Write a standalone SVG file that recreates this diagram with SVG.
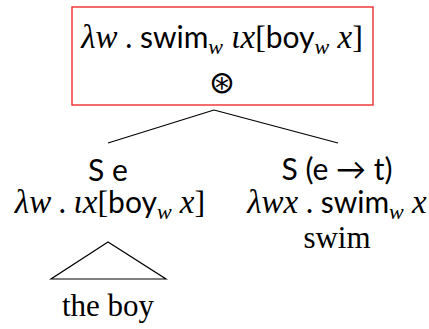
<svg xmlns="http://www.w3.org/2000/svg" width="429" height="329" viewBox="0 0 429 329">
<style>
text{fill:#000;text-anchor:middle}
.s{font-family:Lato,"Open Sans",sans-serif;font-size:30px}
.m{font-family:"Liberation Serif",serif;font-style:italic;font-size:33px}
.r{font-family:"Liberation Serif",serif;font-style:normal;font-size:31px}
.b{font-family:"Liberation Serif",serif;font-style:normal;font-size:32px}
.sub{font-size:22px;font-family:"Liberation Serif",serif;font-style:italic}
.ln{stroke:#000;stroke-width:1.2;fill:none}
</style>
<rect width="429" height="329" fill="#fff"/>
<g id="root">
<rect x="72" y="7" width="301" height="98" fill="none" stroke="#ee1c1c" stroke-width="1.3"/>
<text x="222" y="48" class="s"><tspan class="m">λw</tspan> . swim<tspan class="sub" dy="6">w</tspan><tspan class="m" dy="-6"> ιx</tspan><tspan class="b">[</tspan>boy<tspan class="sub" dy="6">w</tspan><tspan class="m" dy="-6"> x</tspan><tspan class="b">]</tspan></text>
<text x="222" y="93" style="font-family:'DejaVu Sans',sans-serif;font-size:31px">⊛</text>
</g>
<g id="connectors">
<line class="ln" x1="214" y1="110" x2="108" y2="143"/>
<line class="ln" x1="214" y1="110" x2="338" y2="143"/>
<polygon class="ln" points="108,242 51,279 166,279"/>
</g>
<g id="left">
<text x="108" y="181" class="s">S e</text>
<text x="110" y="213" class="s"><tspan class="m">λw</tspan> . <tspan class="m">ιx</tspan><tspan class="b">[</tspan>boy<tspan class="sub" dy="6">w</tspan><tspan class="m" dy="-6"> x</tspan><tspan class="b">]</tspan></text>
</g>
<g id="leaf-left">
<text x="108" y="316" class="r">the boy</text>
</g>
<g id="right">
<text x="337" y="180" class="s">S (e → t)</text>
<text x="337" y="213" class="s"><tspan class="m">λwx</tspan> . swim<tspan class="sub" dy="6">w</tspan><tspan class="m" dy="-6"> x</tspan></text>
<text x="337" y="248" class="r">swim</text>
</g>
</svg>
